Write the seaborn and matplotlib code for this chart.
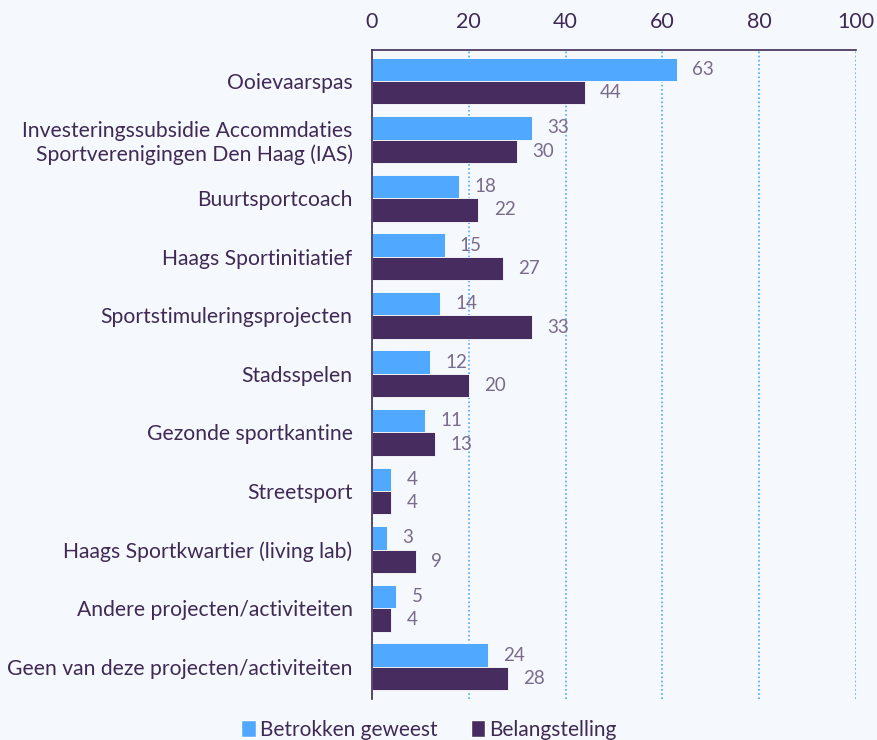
import matplotlib
matplotlib.use("Agg")
import matplotlib.pyplot as plt
import seaborn as sns
import pandas as pd
from matplotlib.patches import Patch

categories = [
    "Ooievaarspas",
    "Investeringssubsidie Accommdaties\nSportverenigingen Den Haag (IAS)",
    "Buurtsportcoach",
    "Haags Sportinitiatief",
    "Sportstimuleringsprojecten",
    "Stadsspelen",
    "Gezonde sportkantine",
    "Streetsport",
    "Haags Sportkwartier (living lab)",
    "Andere projecten/activiteiten",
    "Geen van deze projecten/activiteiten",
]
betrokken = [63, 33, 18, 15, 14, 12, 11, 4, 3, 5, 24]
belangstelling = [44, 30, 22, 27, 33, 20, 13, 4, 9, 4, 28]
series_names = ["Betrokken geweest", "Belangstelling"]
x_ticks = [0, 20, 40, 60, 80, 100]

BG = "#f5f8fd"
BLUE = "#50a8ff"
PURPLE = "#472c5f"
TEXT = "#3f2a55"
VAL = "#7a6b8c"

df = pd.DataFrame({
    "cat": categories * 2,
    "val": betrokken + belangstelling,
    "series": [series_names[0]] * len(categories) + [series_names[1]] * len(categories),
})

sns.set_theme(style="white")
plt.rcParams["font.family"] = ["Lato", "DejaVu Sans"]

fig = plt.figure(figsize=(8.77, 7.40), dpi=100, facecolor=BG)
ax = fig.add_axes([372 / 877, 1 - 699 / 740, (856 - 372) / 877, (699 - 50) / 740])
ax.set_facecolor(BG)

sns.barplot(data=df, y="cat", x="val", hue="series", order=categories,
            hue_order=series_names, palette=[BLUE, PURPLE], orient="h",
            width=0.8, ax=ax, legend=False, saturation=1)

for patch in ax.patches:
    patch.set_edgecolor("white")
    patch.set_linewidth(0.6)

for cont in ax.containers:
    ax.bar_label(cont, labels=[f"{v:.0f}" for v in cont.datavalues], padding=11,
                 color=VAL, fontsize=13.5)

ax.set_xlim(0, 100)
ax.set_ylim(len(categories) - 0.45, -0.53)
ax.set_xticks(x_ticks)
ax.xaxis.tick_top()
ax.tick_params(axis="x", length=0, pad=13, labelsize=15.5, labelcolor=TEXT)
ax.tick_params(axis="y", length=0, pad=14, labelsize=15.2, labelcolor=TEXT)
for lbl in ax.get_yticklabels():
    lbl.set_horizontalalignment("right")
    lbl.set_multialignment("right")
ax.set_xlabel("")
ax.set_ylabel("")
ax.grid(axis="x", color=BLUE, linestyle=(0, (1, 1.5)), linewidth=1.2)
ax.set_axisbelow(True)

for s in ["right", "bottom"]:
    ax.spines[s].set_visible(False)
for s in ["left", "top"]:
    ax.spines[s].set_color(TEXT)
    ax.spines[s].set_linewidth(1.2)

handles = [Patch(facecolor=BLUE, label=series_names[0]),
           Patch(facecolor=PURPLE, label=series_names[1])]
fig.legend(handles=handles, loc="lower center", bbox_to_anchor=(0.489, -0.025), ncol=2,
           frameon=False, fontsize=15, handlelength=0.7, handleheight=0.9,
           handletextpad=0.2, columnspacing=1.6, labelcolor=TEXT)

fig.savefig("out.png", dpi=100, facecolor=BG)
